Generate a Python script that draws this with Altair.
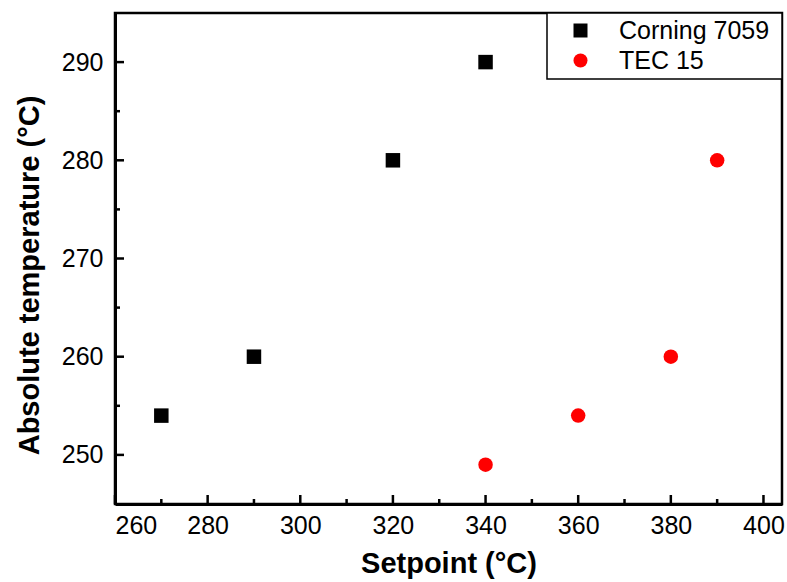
import altair as alt
import pandas as pd

# ---- data ----
series = ["Corning 7059"] * 4 + ["TEC 15"] * 4
setpoint = [270, 290, 320, 340, 340, 360, 380, 390]
absolute_temp = [254, 260, 280, 290, 249, 254, 260, 280]

x_major = [260, 280, 300, 320, 340, 360, 380, 400]
x_minor = [270, 290, 310, 330, 350, 370, 390]
y_major = [250, 260, 270, 280, 290]
y_minor = [255, 265, 275, 285]

series_order = ["Corning 7059", "TEC 15"]
series_colors = ["#000000", "#ff0000"]
series_shapes = ["square", "circle"]

W, H = 667, 491
FONT = "Arial, Liberation Sans, sans-serif"

df = pd.DataFrame({"series": series, "setpoint": setpoint, "abs": absolute_temp})
xs = alt.Scale(domain=[260, 404], nice=False, zero=False)
ys = alt.Scale(domain=[245, 295], nice=False, zero=False)

x_axis = alt.Axis(title="Setpoint (\u00b0C)", values=x_major, tickSize=0,
                  labelPadding=9, grid=False, domainWidth=3, domainColor="black",
                  labelFontSize=25, titleFontSize=29, titleFontWeight="bold",
                  labelColor="black", titleColor="black", labelFont=FONT,
                  titleFont=FONT, titlePadding=11)
y_axis = alt.Axis(title="Absolute temperature (\u00b0C)", values=y_major, tickSize=0,
                  labelPadding=12, grid=False, domainWidth=3, domainColor="black",
                  labelFontSize=25, titleFontSize=29, titleFontWeight="bold",
                  labelColor="black", titleColor="black", labelFont=FONT,
                  titleFont=FONT, titlePadding=17, titleY=262)

pad = "\u00a0\u200b"

points = alt.Chart(df).mark_point(filled=True, opacity=1, size=210, strokeWidth=0).encode(
    x=alt.X("setpoint:Q", scale=xs, axis=x_axis),
    y=alt.Y("abs:Q", scale=ys, axis=y_axis),
    color=alt.Color("series:N", scale=alt.Scale(domain=series_order, range=series_colors),
                    legend=alt.Legend(title=None, orient="top-right", offset=0, padding=5,
                                      strokeColor="black", fillColor="white",
                                      labelFontSize=25, labelFont=FONT, labelColor="black",
                                      rowPadding=4, symbolOffset=16, labelOffset=26,
                                      symbolSize=196, symbolStrokeWidth=0, labelLimit=300,
                                      labelExpr="datum.label + '" + pad + "'")),
    shape=alt.Shape("series:N", scale=alt.Scale(domain=series_order, range=series_shapes)),
)

def xticks(vals, length):
    return alt.Chart(pd.DataFrame({"v": vals})).mark_rule(color="black", strokeWidth=2.5).encode(
        x=alt.X("v:Q", scale=xs, axis=x_axis),
        y=alt.value(H), y2=alt.value(H - length))

def yticks(vals, length):
    return alt.Chart(pd.DataFrame({"v": vals})).mark_rule(color="black", strokeWidth=2.5).encode(
        y=alt.Y("v:Q", scale=ys, axis=y_axis),
        x=alt.value(0), x2=alt.value(length))

chart = alt.layer(
    points, xticks(x_major, 9), xticks(x_minor, 5), yticks(y_major, 9), yticks(y_minor, 5)
).properties(
    width=W, height=H,
    autosize=alt.AutoSizeParams(type="none"),
    padding={"left": 115, "top": 13, "right": 5, "bottom": 78},
).configure_view(stroke="black", strokeWidth=2.5
).configure_legend(strokeWidth=1.5)

chart.save("out.html", embed_options={"renderer": "svg", "actions": False})
